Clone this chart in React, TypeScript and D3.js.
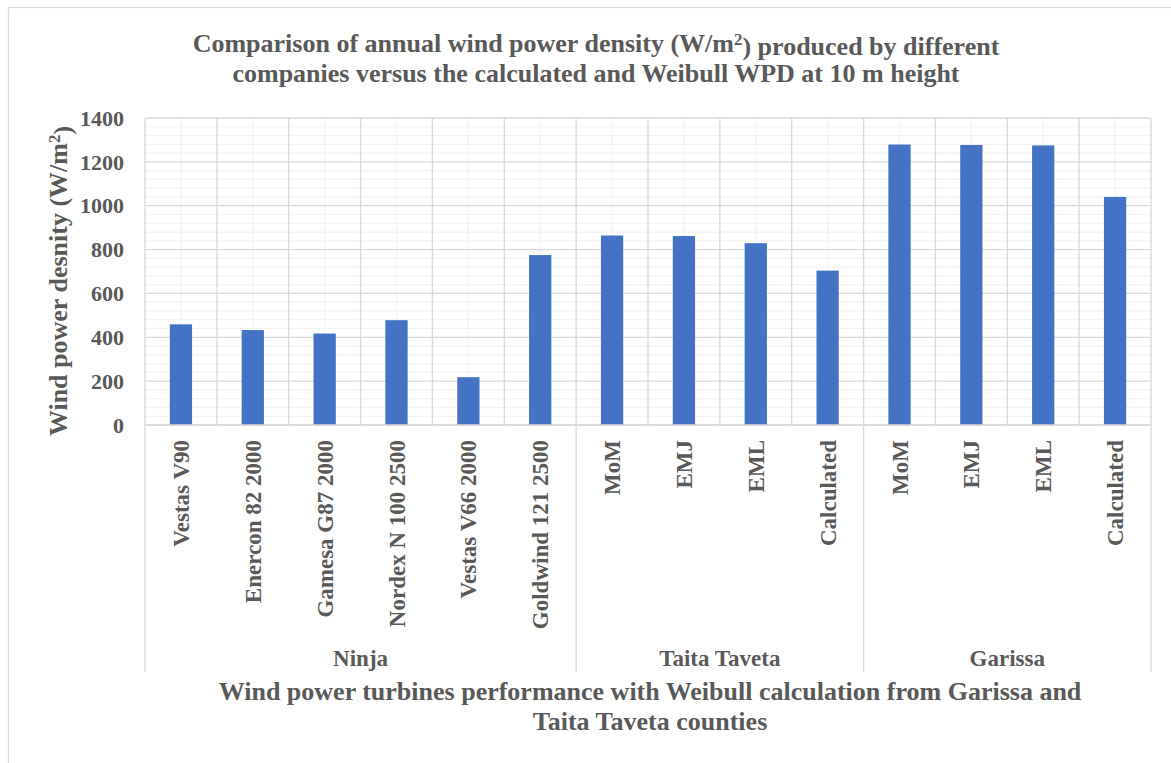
import React from "react";
import * as d3 from "d3";

const categories = [
  "Vestas V90", "Enercon 82 2000", "Gamesa G87 2000", "Nordex N 100 2500", "Vestas V66 2000", "Goldwind 121 2500",
  "MoM", "EMJ", "EML", "Calculated",
  "MoM", "EMJ", "EML", "Calculated",
];
const groups = [
  { name: "Ninja", count: 6 },
  { name: "Taita Taveta", count: 4 },
  { name: "Garissa", count: 4 },
];
const values = [459, 433, 417, 478, 218, 775, 864, 862, 829, 704, 1279, 1277, 1275, 1040];
const yTicks = [0, 200, 400, 600, 800, 1000, 1200, 1400];

const W = 1171, H = 763;
const left = 145, right = 1151, top = 118, bottom = 425;
const grey = "#595959";
const font = "'Liberation Serif', 'Times New Roman', serif";

export default function App() {
  const idx = categories.map((_, i) => i);
  const x = d3.scaleBand<number>().domain(idx).range([left, right]).paddingInner(0).paddingOuter(0);
  const y = d3.scaleLinear().domain([0, 1400]).range([bottom, top]);
  const bw = x.bandwidth();
  const barW = bw * 0.31;
  const minorTicks = d3.range(0, 1401, 40).filter((v) => v % 200 !== 0);

  let acc = 0;
  const groupPos = groups.map((g) => {
    const start = acc;
    acc += g.count;
    return { ...g, x0: left + start * bw, x1: left + acc * bw };
  });

  return (
    <svg width={W} height={H} style={{ position: "absolute", left: 0, top: 0 }} fontFamily={font}>
      <rect x={0} y={0} width={W} height={H} fill="#fff" />
      <rect x={8.5} y={7.5} width={W + 10} height={H + 10} fill="none" stroke="#d9d9d9" strokeWidth={1.3} />
      {minorTicks.map((t) => (
        <line key={"mh" + t} x1={left} x2={right} y1={y(t)} y2={y(t)} stroke="#f2f2f2" strokeWidth={1.2} />
      ))}
      {idx.map((i) => (
        <line key={"mv" + i} x1={x(i)! + bw / 2} x2={x(i)! + bw / 2} y1={top} y2={bottom} stroke="#f2f2f2" strokeWidth={1.2} />
      ))}
      {yTicks.map((t) => (
        <line key={"h" + t} x1={left} x2={right} y1={y(t)} y2={y(t)} stroke="#d9d9d9" strokeWidth={1.3} />
      ))}
      {d3.range(categories.length + 1).map((i) => (
        <line key={"v" + i} x1={left + i * bw} x2={left + i * bw} y1={top} y2={bottom} stroke="#d9d9d9" strokeWidth={1.3} />
      ))}
      {values.map((v, i) => (
        <rect key={"b" + i} x={x(i)! + (bw - barW) / 2} y={y(v)} width={barW} height={y(0) - y(v)} fill="#4472c4" />
      ))}
      <line x1={left} x2={right} y1={bottom} y2={bottom} stroke="#d9d9d9" strokeWidth={1.5} />
      {[groupPos[0].x0, ...groupPos.map((g) => g.x1)].map((gx, i) => (
        <line key={"gs" + i} x1={gx} x2={gx} y1={bottom} y2={672} stroke="#d9d9d9" strokeWidth={1.3} />
      ))}
      {yTicks.map((t) => (
        <text key={"yt" + t} x={124} y={y(t)} dy="0.35em" textAnchor="end" fontSize={22} fontWeight="bold" fill={grey}>
          {t}
        </text>
      ))}
      {categories.map((c, i) => {
        const cx = x(i)! + bw / 2;
        return (
          <text key={"c" + i} transform={`translate(${cx},440) rotate(-90)`} dy="0.35em" textAnchor="end" fontSize={23} fontWeight="bold" fill={grey}>
            {c}
          </text>
        );
      })}
      {groupPos.map((g) => (
        <text key={"g" + g.name} x={(g.x0 + g.x1) / 2} y={666} textAnchor="middle" fontSize={23} fontWeight="bold" fill={grey}>
          {g.name}
        </text>
      ))}
      <text transform={`translate(58,281) rotate(-90)`} dy="0.35em" textAnchor="middle" fontSize={26} fontWeight="bold" fill={grey}>
        Wind power desnity (W/m<tspan dy="-0.4em" fontSize={17}>2</tspan><tspan dy="0.4em">)</tspan>
      </text>
      <text x={596} y={51.5} textAnchor="middle" fontSize={26} fontWeight="bold" fill={grey}>
        Comparison of annual wind power density (W/m<tspan dy="-0.4em" fontSize={17}>2</tspan><tspan dy="0.4em">) produced by different</tspan>
      </text>
      <text x={596} y={82} textAnchor="middle" fontSize={26} fontWeight="bold" fill={grey}>
        companies versus the calculated and Weibull WPD at 10 m height
      </text>
      <text x={650} y={699.5} textAnchor="middle" fontSize={26} fontWeight="bold" fill={grey}>
        Wind power turbines performance with Weibull calculation from Garissa and
      </text>
      <text x={650} y={730} textAnchor="middle" fontSize={26} fontWeight="bold" fill={grey}>
        Taita Taveta counties
      </text>
    </svg>
  );
}
